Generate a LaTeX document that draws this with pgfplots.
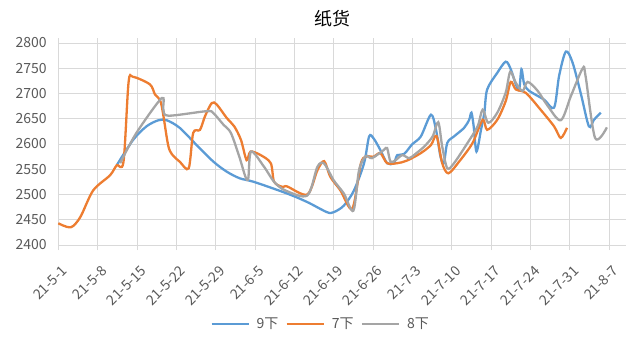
\documentclass[border=0pt]{standalone}
\usepackage{fontspec}
\setmainfont{Noto Sans CJK SC}
\usepackage{pgfplots}
\pgfplotsset{compat=1.18}
\definecolor{cblue}{HTML}{5B9BD5}
\definecolor{corange}{HTML}{ED7D31}
\definecolor{cgray}{HTML}{A5A5A5}
\definecolor{gridc}{HTML}{D9D9D9}
\definecolor{txt}{HTML}{595959}
\begin{document}
\begin{tikzpicture}[x=1pt,y=1pt]
\useasboundingbox (0,0) rectangle (626,337);
\node[text=black,font=\fontsize{18}{20}\selectfont] at (332,318) {纸货};
\begin{axis}[
  at={(58.3pt,92pt)}, anchor=south west,
  scale only axis, width=567.7pt, height=202pt,
  xmin=0, xmax=101, ymin=2400, ymax=2800,
  ytick={2400,2450,...,2800},
  xtick={0,7,...,98},
  xticklabels={21-5-1,21-5-8,21-5-15,21-5-22,21-5-29,21-6-5,21-6-12,21-6-19,21-6-26,21-7-3,21-7-10,21-7-17,21-7-24,21-7-31,21-8-7},
  grid=major,
  major grid style={draw=gridc, line width=0.9pt},
  axis line style={draw=none},
  tick align=outside,
  major tick length=5pt,
  xtick style={draw=gridc, line width=0.9pt},
  ytick style={draw=none},
  /pgf/number format/assume math mode=true,
  /pgf/number format/1000 sep={},
  tick label style={font=\fontsize{14}{16}\selectfont, text=txt},
  yticklabel style={xshift=-3pt},
  xticklabel style={anchor=east, xshift=9pt, yshift=-16pt, rotate=45},
  legend columns=3,
  legend style={at={(0.462,-0.391)}, anchor=center, draw=none, font=\fontsize{14}{16}\selectfont, text=txt, column sep=5pt, inner sep=0pt},
  legend image code/.code={\draw[#1, line width=2.4pt] (0pt,0pt) -- (37pt,0pt);},
  every axis plot/.append style={line width=2.3pt, smooth, tension=0.5},
  clip=false,
]
\addplot[cblue] coordinates {
(10.4,2558) (13.3,2608) (15.7,2635) (17.8,2647) (19.3,2647) (21.6,2632) (24.6,2598) (27.6,2565) (30.0,2545) (32.3,2532) (34.8,2525)
(40.7,2502) (44.3,2485) (47.8,2465) (49.0,2465) (50.8,2478) (52.6,2508) (54.4,2562) (55.3,2615) (56.1,2611) (57.3,2588) (58.5,2562)
(59.7,2562) (60.3,2578) (61.5,2580) (63.0,2600) (64.5,2615) (66.3,2658) (67.2,2628) (68.0,2575) (68.6,2562) (69.2,2602) (70.4,2615)
(72.2,2632) (73.1,2648) (73.5,2662) (73.9,2635) (74.4,2585) (75.2,2628) (75.8,2662) (76.3,2708) (78.1,2741) (79.6,2763) (80.5,2748)
(81.4,2718) (82.0,2708) (82.4,2748) (82.9,2718) (83.8,2705) (86.4,2688) (88.2,2672) (89.1,2735) (90.3,2783) (91.5,2761) (93.0,2698)
(94.4,2635) (95.3,2648) (96.5,2662)
};
\addlegendentry{9下}
\addplot[corange] coordinates {
(0,2443) (2.2,2435) (3.9,2455) (6.2,2508) (9.2,2538) (10.4,2558) (11.6,2565) (12.5,2722) (13.3,2733) (16.3,2718) (17.2,2698)
(18.3,2680) (19.5,2600) (20.2,2580) (21.6,2565) (23.2,2552) (24.0,2622) (25.2,2628) (26.1,2655) (27.3,2681) (28.2,2678) (30.0,2651)
(31.3,2635) (32.5,2608) (33.5,2568) (34.2,2585) (36.0,2578) (37.8,2562) (38.4,2525) (39.9,2515) (40.7,2516) (44.3,2500) (46.1,2548)
(47.3,2566) (48.4,2535) (50.2,2508) (52.3,2472) (53.8,2560) (54.7,2575) (56.1,2575) (57.3,2582) (58.5,2562) (60.3,2562) (62.0,2567)
(64.5,2582) (66.3,2598) (67.3,2616) (68.3,2562) (69.4,2542) (71.3,2565) (73.7,2602) (75.5,2648) (76.3,2628) (78.1,2648) (79.6,2685)
(80.5,2723) (81.4,2708) (83.2,2701) (85.8,2668) (88.2,2635) (89.4,2612) (90.5,2632)
};
\addlegendentry{7下}
\addplot[cgray] coordinates {
(11.0,2562) (13.9,2622) (18.4,2691) (18.7,2668) (19.6,2656) (26.4,2665) (27.6,2661) (29.4,2638) (30.7,2622) (32.2,2575) (33.3,2535)
(33.8,2532) (34.3,2585) (36.6,2555) (38.4,2525) (40.4,2508) (44.3,2498) (46.1,2555) (47.3,2561) (49.0,2528) (50.8,2502) (52.5,2468)
(53.5,2548) (54.7,2576) (55.8,2572) (57.9,2588) (58.5,2592) (59.1,2565) (60.0,2568) (61.2,2578) (62.4,2572) (63.5,2580) (65.1,2595)
(66.6,2615) (67.6,2643) (68.3,2595) (69.2,2552) (70.4,2562) (72.8,2602) (74.6,2635) (75.5,2668) (76.5,2642) (78.1,2662) (79.6,2702)
(80.4,2743) (81.4,2721) (82.6,2705) (83.5,2723) (85.3,2705) (87.1,2675) (89.4,2647) (91.2,2695) (93.3,2750) (93.8,2735) (95.5,2612)
(97.6,2633)
};
\addlegendentry{8下}
\end{axis}
\end{tikzpicture}
\end{document}
